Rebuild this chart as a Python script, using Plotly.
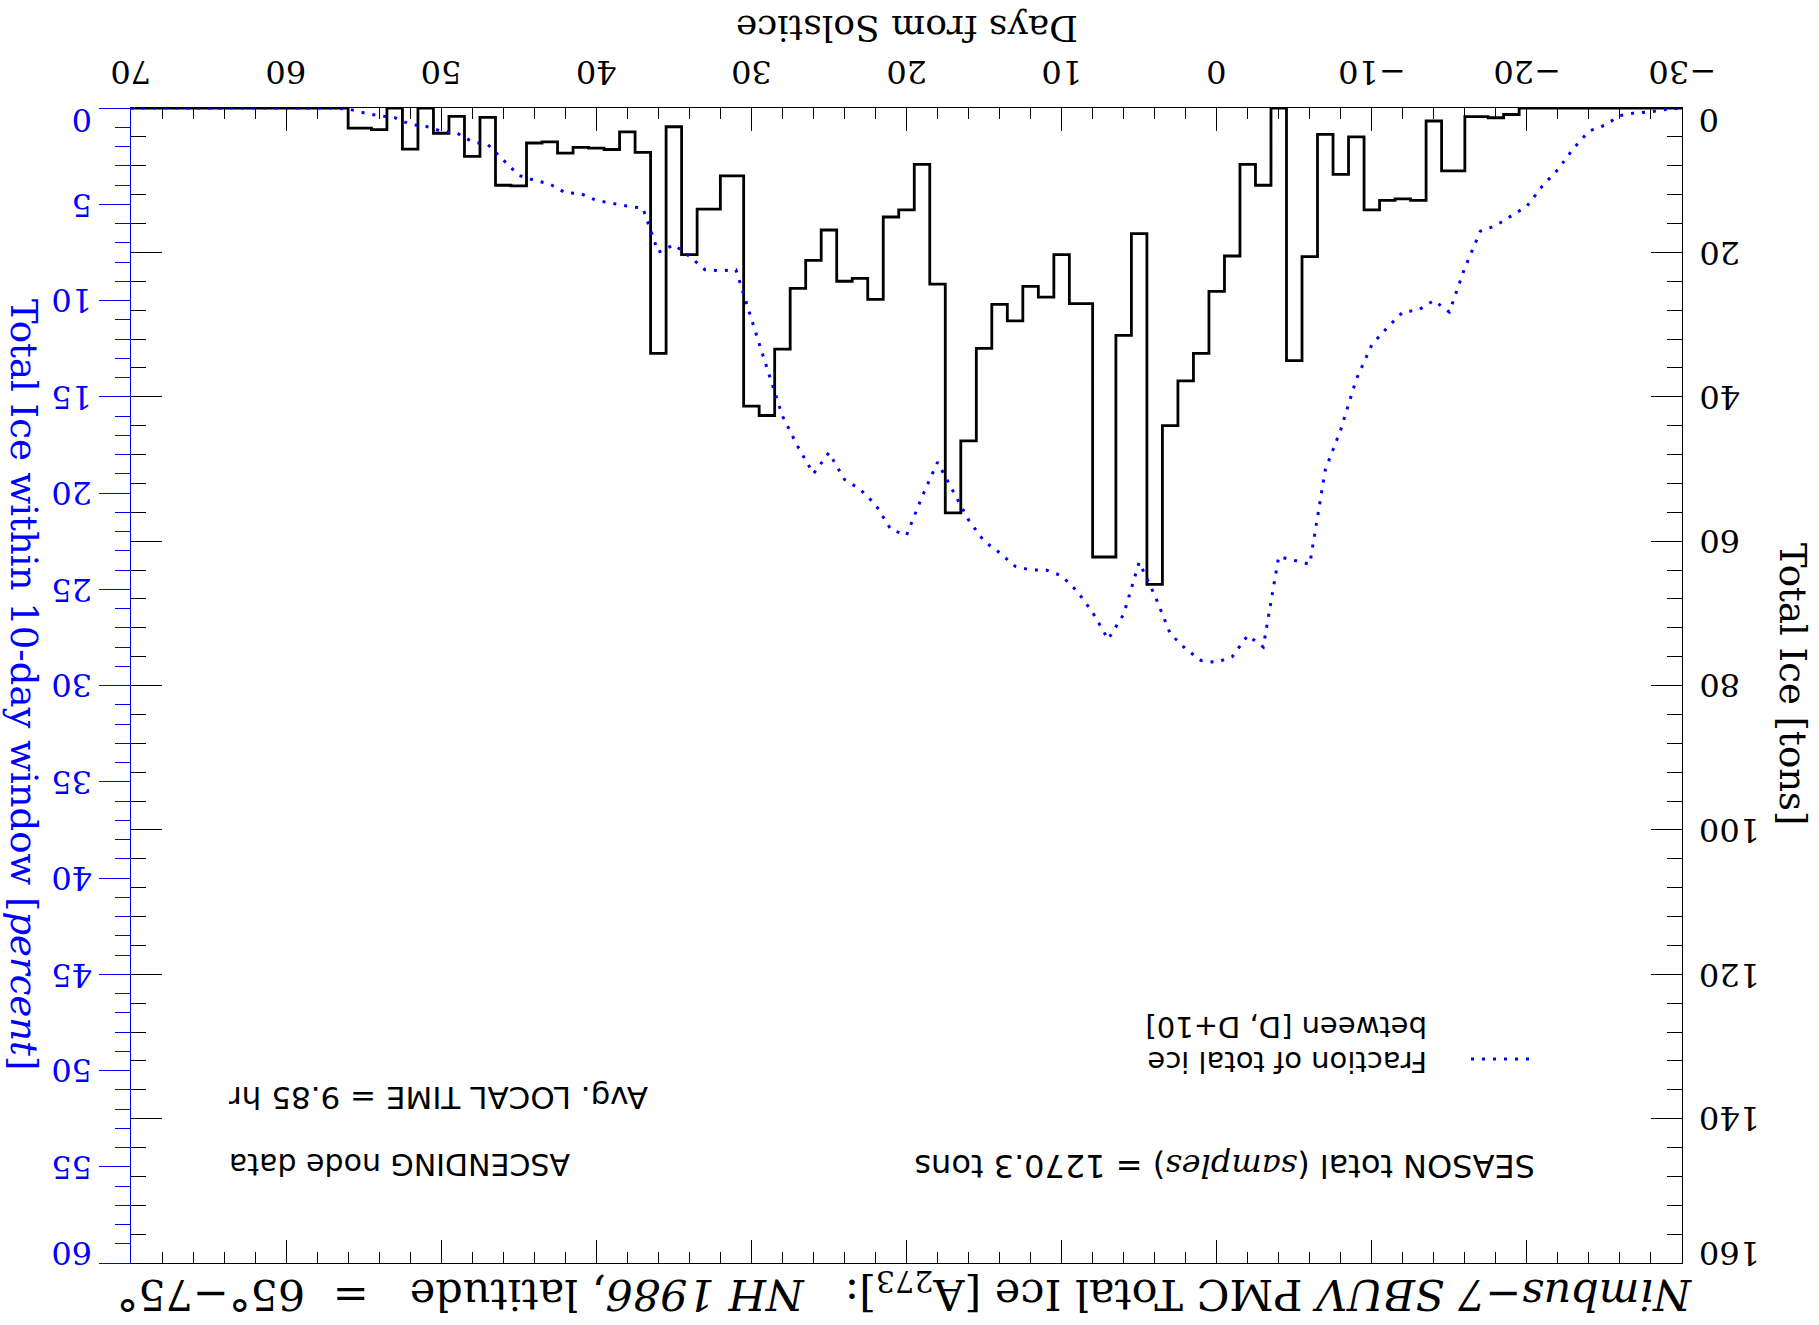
import plotly.graph_objects as go

# ---------------- data ----------------
# daily total ice [tons]; some days are missing in the record
ice_days = [70, 69, 68, 67, 66, 65, 64, 63, 62, 61, 60, 59, 58, 57,
            55, 54, 53, 52, 51, 50, 49, 48, 47, 46, 45, 44, 43, 42, 41, 40, 39, 38, 37, 36, 35, 34, 33,
            31, 30, 29, 28, 27, 26, 25, 24, 23, 22, 21, 20, 19, 18, 17, 16, 15, 14, 13, 12, 11, 10, 9,
            7, 6, 5, 4, 3, 2, 1, 0, -1, -2, -3, -4, -5, -6, -7, -8, -9, -10, -11, -12, -13, -14, -15,
            -17, -18, -19, -20, -21, -22, -23, -24, -25, -26, -27, -28, -29, -30]
ice_tons = [0, 0, 0, 0, 0, 0, 0, 0, 0, 0, 0, 0, 0, 0,
            2.8, 3.0, 0, 5.7, 0, 3.5, 1.15, 6.7, 1.3, 10.7, 10.8, 4.85, 4.7, 6.25, 5.45, 5.55, 5.75, 3.3, 6.15,
            34.0, 2.6, 20.3, 14.0,
            9.4, 41.3, 42.6, 33.4, 25.0, 21.1, 16.9, 24.0, 23.6, 26.5, 15.1, 14.1, 7.8, 24.4, 56.1, 46.1, 33.3,
            27.2, 29.5, 24.7, 26.2, 20.3, 27.1,
            62.2, 31.5, 17.4, 66.0, 44.0, 37.8, 34.0, 25.4, 20.5, 7.8, 10.7, 0, 35.0, 20.6, 3.65, 9.2, 4.0,
            14.1, 12.8, 12.6, 12.8, 1.8, 8.7,
            1.2, 1.35, 0.9, 0, 0, 0, 0, 0, 0, 0, 0, 0, 0, 0]

# fraction of total ice within [D, D+10]  [percent]
frac_days = list(range(70, -31, -1))
frac_pct = [0, 0, 0, 0, 0, 0, 0, 0, 0, 0, 0, 0, 0, 0,
            0.05, 0.25, 0.4, 0.5, 0.85, 0.95, 1.2, 1.3, 1.75, 1.9,
            2.7, 3.5, 3.75, 3.95, 4.4, 4.45, 4.8, 4.95, 5.1, 5.2,
            7.5, 7.1, 7.7, 8.4, 8.45, 8.4, 11.0, 13.5, 16.0, 17.6,
            19.0, 17.9, 19.3, 19.8, 20.6, 21.9, 22.2, 20.2, 18.4, 19.9,
            21.4, 22.5, 23.1, 23.8, 24.0, 24.0, 24.3, 25.1, 26.2, 27.6,
            26.3, 23.6, 25.3, 27.3, 28.1, 28.7, 28.8, 28.5, 27.4, 28.0,
            23.3, 23.5, 23.7, 18.8, 16.7, 14.1, 12.3, 11.4, 10.6, 10.5,
            10.0, 10.6, 8.3, 6.4, 6.1, 5.6, 5.1, 4.05, 3.2, 2.1,
            1.2, 0.9, 0.4, 0.25, 0.2, 0.07, 0]

day_ticks = [70, 60, 50, 40, 30, 20, 10, 0, -10, -20, -30]
ton_ticks = [0, 20, 40, 60, 80, 100, 120, 140, 160]
pct_ticks = [0, 5, 10, 15, 20, 25, 30, 35, 40, 45, 50, 55, 60]

title_text = ('<i>Nimbus\u22127 SBUV</i> PMC Total Ice [A<sub>273</sub>]:   '
              '<i>NH 1986</i>, latitude   =  65\u00b0\u221275\u00b0')
xtitle_text = 'Days from Solstice'
ytitle_text = 'Total Ice [tons]'
y2title_text = 'Total Ice within 10-day window [<i>percent</i>]'
season_text = ('SEASON total (<span style="font-family:DejaVu Serif;font-style:italic">samples</span>)'
               ' = 1270.3 tons')
node_text = 'ASCENDING node data'
time_text = 'Avg. LOCAL TIME = 9.85 hr'
legend_line1 = 'Fraction of total ice'
legend_line2 = 'between [D, D+10]'

# ---------------- layout helpers ----------------
W, H = 1819, 1325
ML, MR, MT, MB = 131, 137, 108, 62
PW, PH = W - ML - MR, H - MT - MB


def px(xp):
    return (xp - ML) / PW


def py(yp):
    return (H - MB - yp) / PH


BLUE = '#0000ff'
SERIF = 'DejaVu Serif'
SANS = 'DejaVu Sans'

fig = go.Figure()
fig.add_trace(go.Scatter(x=ice_days, y=ice_tons, mode='lines', yaxis='y',
                         line=dict(color='black', width=2.8, shape='hvh'),
                         showlegend=False, hoverinfo='skip'))
fig.add_trace(go.Scatter(x=frac_days, y=frac_pct, mode='lines', yaxis='y2',
                         line=dict(color=BLUE, width=3, dash='3px,8px'),
                         showlegend=False, hoverinfo='skip'))

fig.update_layout(
    width=W, height=H,
    margin=dict(l=ML, r=MR, t=MT, b=MB, pad=0),
    paper_bgcolor='white', plot_bgcolor='white', showlegend=False,
    xaxis=dict(range=[70, -30], side='top', showline=True, linecolor='black', linewidth=1,
               mirror='ticks', ticks='inside', ticklen=23, tickwidth=1, tickcolor='black',
               tickmode='linear', tick0=0, dtick=10, showticklabels=False,
               minor=dict(dtick=2, tick0=0, ticks='inside', ticklen=11, tickwidth=1, tickcolor='black'),
               showgrid=False, zeroline=False),
    yaxis=dict(range=[160, 0], side='right', showline=True, linecolor='black', linewidth=1,
               mirror='ticks', ticks='inside', ticklen=31, tickwidth=1, tickcolor='black',
               tickmode='linear', tick0=0, dtick=20, showticklabels=False,
               minor=dict(dtick=4, tick0=0, ticks='inside', ticklen=15, tickwidth=1, tickcolor='black'),
               showgrid=False, zeroline=False),
    yaxis2=dict(range=[60, 0], overlaying='y', side='left', anchor='x', showline=True,
                linecolor=BLUE, linewidth=1, ticks='outside', ticklen=31, tickwidth=1,
                tickcolor=BLUE, tickmode='linear', tick0=0, dtick=5, showticklabels=False,
                minor=dict(dtick=1, tick0=0, ticks='outside', ticklen=15, tickwidth=1, tickcolor=BLUE),
                showgrid=False, zeroline=False),
)

ann = []
tickfont = dict(family=SERIF, size=32, color='black')
for d in day_ticks:
    ann.append(dict(x=d, xref='x', y=py(72), yref='paper', text=str(d).replace('-', '\u2212'),
                    textangle=180, xanchor='center', yanchor='middle', showarrow=False, font=tickfont))
for i, t in enumerate(ton_ticks):
    ys = -12 if i == 0 else (10 if i == len(ton_ticks) - 1 else 0)
    ann.append(dict(x=px(1697), xref='paper', y=t, yref='y', yshift=ys, text=str(t),
                    textangle=180, xanchor='left', yanchor='middle', showarrow=False, font=tickfont))
for i, p in enumerate(pct_ticks):
    ys = -12 if i == 0 else (10 if i == len(pct_ticks) - 1 else 0)
    ann.append(dict(x=px(94), xref='paper', y=p, yref='y2', yshift=ys, text=str(p),
                    textangle=180, xanchor='right', yanchor='middle', showarrow=False,
                    font=dict(family=SERIF, size=32, color=BLUE)))

ann.append(dict(x=px(905), y=py(1292), xref='paper', yref='paper', text=title_text, textangle=180,
                xanchor='center', yanchor='middle', showarrow=False,
                font=dict(family=SERIF, size=43, color='black')))
ann.append(dict(x=px(907), y=py(28), xref='paper', yref='paper', text=xtitle_text, textangle=180,
                xanchor='center', yanchor='middle', showarrow=False,
                font=dict(family=SERIF, size=36, color='black')))
ann.append(dict(x=px(1793), y=py(684), xref='paper', yref='paper', text=ytitle_text, textangle=90,
                xanchor='center', yanchor='middle', showarrow=False,
                font=dict(family=SERIF, size=37, color='black')))
ann.append(dict(x=px(24), y=py(684), xref='paper', yref='paper', text=y2title_text, textangle=90,
                xanchor='center', yanchor='middle', showarrow=False,
                font=dict(family=SERIF, size=37, color=BLUE)))
ann.append(dict(x=px(1537), y=py(1166), xref='paper', yref='paper', text=season_text, textangle=180,
                xanchor='right', yanchor='middle', showarrow=False,
                font=dict(family=SANS, size=32, color='black')))
ann.append(dict(x=px(227), y=py(1165), xref='paper', yref='paper', text=node_text, textangle=180,
                xanchor='left', yanchor='middle', showarrow=False,
                font=dict(family=SANS, size=30, color='black')))
ann.append(dict(x=px(227), y=py(1098), xref='paper', yref='paper', text=time_text, textangle=180,
                xanchor='left', yanchor='middle', showarrow=False,
                font=dict(family=SANS, size=31, color='black')))
ann.append(dict(x=px(1428), y=py(1062), xref='paper', yref='paper', text=legend_line1, textangle=180,
                xanchor='right', yanchor='middle', showarrow=False, borderpad=0,
                font=dict(family=SANS, size=29, color='black')))
ann.append(dict(x=px(1428), y=py(1027), xref='paper', yref='paper', text=legend_line2, textangle=180,
                xanchor='right', yanchor='middle', showarrow=False, borderpad=0,
                font=dict(family=SANS, size=29, color='black')))

fig.update_layout(annotations=ann)
fig.add_shape(type='line', xref='paper', yref='paper', x0=px(1471), x1=px(1537),
              y0=py(1059), y1=py(1059), line=dict(color=BLUE, width=3, dash='3px,8px'))

fig.write_html('out.html', config={'displayModeBar': False},
               post_script="document.body.style.margin='0';document.body.style.padding='0';")
